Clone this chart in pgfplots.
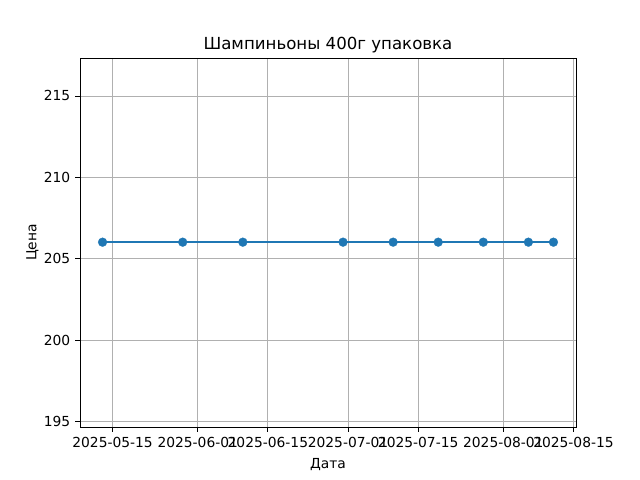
\documentclass[border=0pt]{standalone}
\usepackage{pgfplots}
\pgfplotsset{compat=1.18}
\usepackage{fontspec}
\setmainfont{DejaVu Sans}
\definecolor{mplblue}{HTML}{1F77B4}
\definecolor{mplgrid}{HTML}{B0B0B0}
\begin{document}
\begin{tikzpicture}
\path (-0.80in,-0.53in) rectangle (5.60in,4.27in);
\begin{axis}[
  at={(0,0)}, anchor=south west,
  scale only axis, width=4.96in, height=3.69in,
  xmin=-6.5, xmax=92.5, ymin=194.67, ymax=217.33,
  xtick={0,17,31,47,61,78,92},
  xticklabels={2025-05-15,2025-06-01,2025-06-15,2025-07-01,2025-07-15,2025-08-01,2025-08-15},
  ytick={195,200,205,210,215},
  /pgf/number format/assume math mode=true,
  tick align=outside, tick pos=left,
  major tick length=3.5pt,
  every tick/.style={black, line width=0.6pt},
  axis line style={line width=0.6pt},
  grid=major,
  grid style={mplgrid, line width=0.6pt},
  ticklabel style={font=\fontsize{10}{12}\selectfont},
  title={Шампиньоны 400г упаковка},
  title style={font=\fontsize{12}{14}\selectfont, yshift=-6pt},
  xlabel={Дата}, ylabel={Цена},
  label style={font=\fontsize{10}{12}\selectfont},
  xlabel style={yshift=-1pt},
  ylabel style={yshift=-3pt},
]
\addplot[mplblue, line width=1.7pt, mark=*, mark size=3.2pt, mark options={solid, fill=mplblue, draw=mplblue, line width=0.2pt}]
coordinates {(-2,206.02) (14,206.02) (26,206.02) (46,206.02) (56,206.02) (65,206.02) (74,206.02) (83,206.02) (88,206.02)};
\end{axis}
\end{tikzpicture}
\end{document}
